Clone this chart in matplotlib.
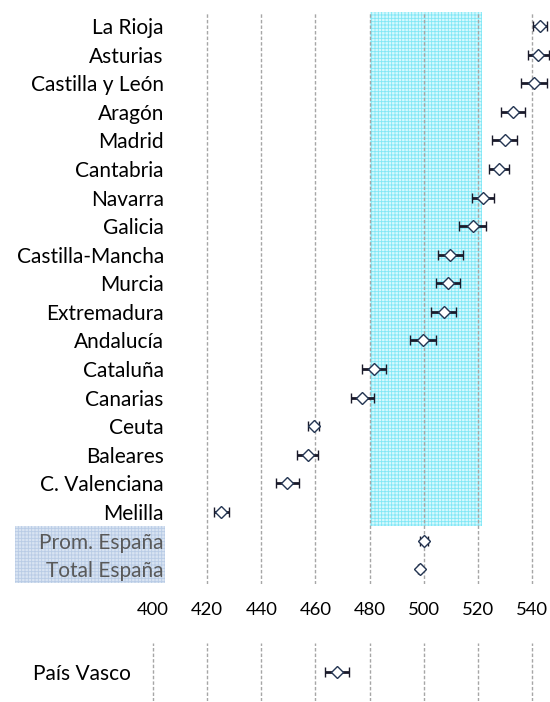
import matplotlib
matplotlib.use("Agg")
import matplotlib.pyplot as plt
import matplotlib.transforms as mtransforms
from matplotlib.patches import Rectangle

plt.rcParams['font.family'] = ['Lato', 'DejaVu Sans']
plt.rcParams['hatch.linewidth'] = 0.6

regions = ["La Rioja", "Asturias", "Castilla y León", "Aragón", "Madrid", "Cantabria",
           "Navarra", "Galicia", "Castilla-Mancha", "Murcia", "Extremadura", "Andalucía",
           "Cataluña", "Canarias", "Ceuta", "Baleares", "C. Valenciana", "Melilla",
           "Prom. España", "Total España"]
scores = [543.0, 542.2, 540.6, 532.9, 529.9, 527.7, 521.8, 518.1, 509.8, 508.9,
          507.3, 499.7, 481.6, 477.3, 459.4, 457.2, 449.6, 425.2, 500.1, 498.5]
errors = [2.6, 3.9, 4.8, 4.3, 4.6, 3.8, 4.1, 5.0, 4.7, 4.4,
          4.7, 4.7, 4.4, 4.3, 2.0, 3.9, 4.3, 2.8, 1.6, 0.6]

pv_label = ["País Vasco"]
pv_score = [467.9]
pv_error = [4.4]

band = (480.0, 521.4)
ticks = [400, 420, 440, 460, 480, 500, 520, 540]
main_grid = [420, 440, 460, 480, 500, 520, 540]

W, H = 550, 702
fig = plt.figure(figsize=(W / 100, H / 100), dpi=100)

px0, scale = 153.0, 2.708  # pixel of 400, px per unit
def v_at(px):
    return 400 + (px - px0) / scale

xmax = v_at(550)
LBL = 15
TCK = 13.3
mk = dict(fmt='D', markersize=6, markerfacecolor='white', markeredgecolor='#243552',
          markeredgewidth=1.0, ecolor='#1a1a2a', elinewidth=2, capsize=3.5,
          capthick=1.5, zorder=3)

# main axes
m_left, m_top, m_bot = 168, 11.7, 583.5
ax = fig.add_axes([m_left / W, 1 - m_bot / H, (W - m_left) / W, (m_bot - m_top) / H])
ax.set_xlim(v_at(m_left), xmax)
n = len(regions)
ax.set_ylim(n - 0.5, -0.5)
for s in ax.spines.values():
    s.set_visible(False)
ax.set_xticks([])
ax.set_yticks(range(n))
ax.set_yticklabels(regions, fontsize=LBL)
ax.tick_params(axis='y', length=0, pad=3)
for lbl in ax.get_yticklabels()[-2:]:
    lbl.set_color('#595959')

ax.add_patch(Rectangle((band[0], -0.5), band[1] - band[0], 18, facecolor='#d6f9fd',
                       edgecolor='#80e7f6', hatch='+++++', linewidth=0, zorder=0.3))
for g in main_grid:
    ax.axvline(g, color='#a6a6a6', linestyle=(0, (2.5, 1.5)), linewidth=1, zorder=0.6)

# label box for Spain averages
tr = mtransforms.blended_transform_factory(fig.transFigure, ax.transData)
ax.add_patch(Rectangle((15 / W, 17.5), 150 / W, 2, transform=tr, clip_on=False,
                       facecolor='#d8e3f2', edgecolor='#b8cbe5', hatch='+++++',
                       linewidth=0, zorder=0.2))

ax.errorbar(scores, range(n), xerr=errors, clip_on=False, **mk)

# bottom axes (País Vasco) with value ticks on top
b_left, b_top, b_bot = 145, 643, 701
bx = fig.add_axes([b_left / W, 1 - b_bot / H, (W - b_left) / W, (b_bot - b_top) / H])
bx.set_xlim(v_at(b_left), xmax)
bx.set_ylim(0.5, -0.5)
for s in bx.spines.values():
    s.set_visible(False)
bx.xaxis.tick_top()
bx.set_xticks(ticks)
bx.set_xticklabels([str(t) for t in ticks], fontsize=TCK)
bx.tick_params(axis='x', length=0, pad=18)
bx.set_yticks([0])
bx.set_yticklabels(pv_label, fontsize=LBL)
bx.tick_params(axis='y', length=0, pad=10)
for g in ticks:
    bx.axvline(g, color='#a6a6a6', linestyle=(0, (2.5, 1.5)), linewidth=1, zorder=0.6)
bx.errorbar(pv_score, [0], xerr=pv_error, **mk)

fig.savefig("out.png", dpi=100)
